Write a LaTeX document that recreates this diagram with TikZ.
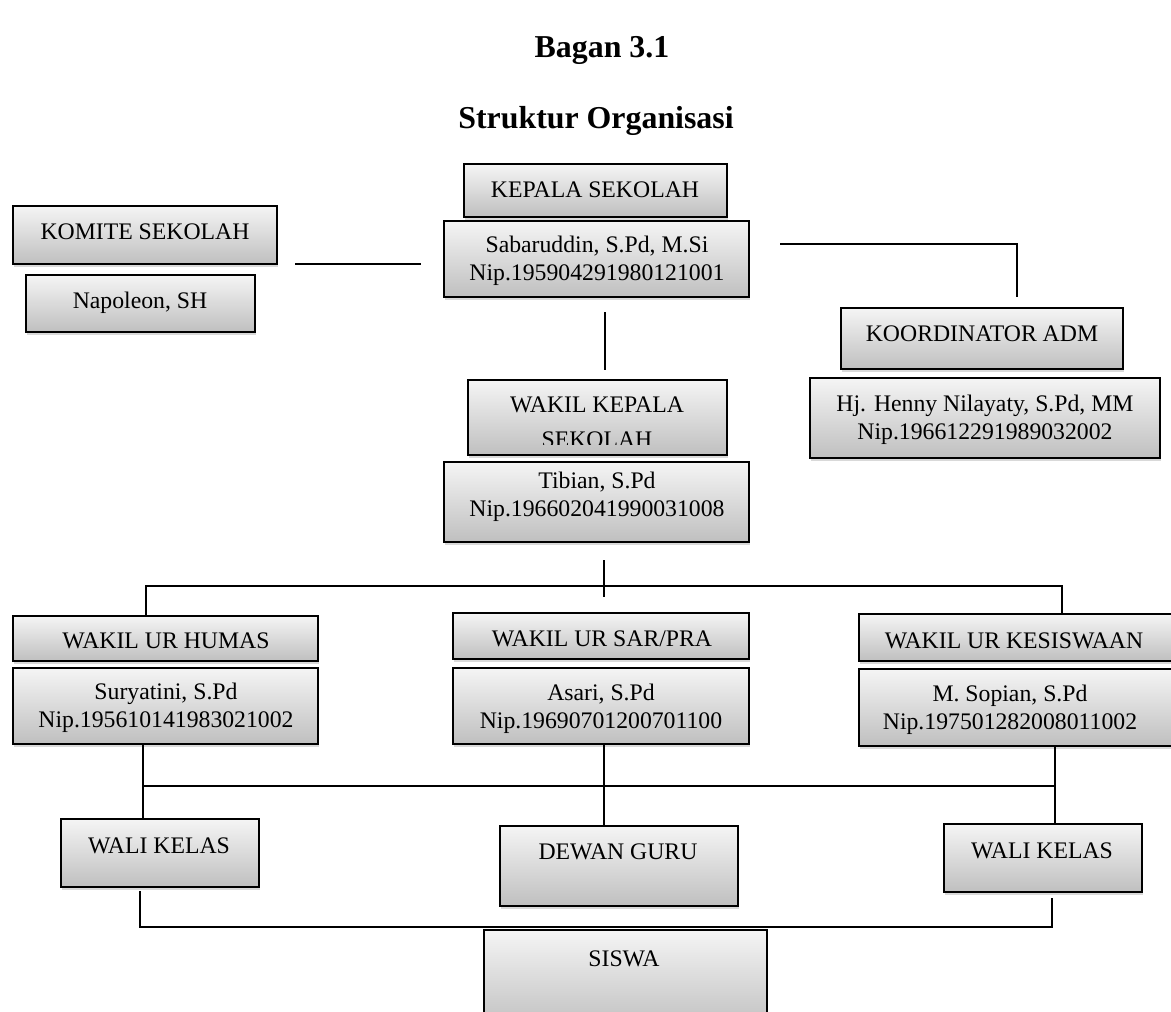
\documentclass[tikz,border=0pt]{standalone}
\usepackage{fontspec}
\setmainfont{Liberation Serif}
\usetikzlibrary{fit,shadows}
\begin{document}
\begin{tikzpicture}[x=0.75pt,y=-0.75pt,
  obox/.style={draw=black, line width=1.4pt, top color=black!4, bottom color=black!25,
    inner sep=0pt, drop shadow={shadow xshift=1pt, shadow yshift=-2.2pt, opacity=0.3}},
  txt/.style={font=\fontsize{17.8}{21}\selectfont, align=center, inner sep=0pt},
  ttl/.style={font=\fontsize{23.9}{28}\selectfont\bfseries, inner sep=0pt},
  conn/.style={line width=1.2pt}]
\useasboundingbox (0,0) rectangle (1171,1011);
\clip (0,0) rectangle (1171,1011);

% titles
\node[ttl, anchor=base] (t1) at (602,57) {Bagan 3.1};
\node[ttl, anchor=base] (t2) at (596,128) {Struktur Organisasi};

% boxes
\node[obox, fit={(464,164) (727,217)}] (kepala) {};
\node[obox, fit={(444,221) (749,297)}] (sabar) {};
\node[obox, fit={(13,206) (277,264)}] (komite) {};
\node[obox, fit={(26,275) (255,332)}] (napoleon) {};
\node[obox, fit={(841,308) (1123,369)}] (koord) {};
\node[obox, fit={(810,378) (1160,458)}] (henny) {};
\node[obox, fit={(468,380) (727,455)}] (wakilkepala) {};
\node[obox, fit={(444,462) (749,542)}] (tibian) {};
\node[obox, fit={(13,616) (318,661)}] (humas) {};
\node[obox, fit={(13,668) (318,744)}] (suryatini) {};
\node[obox, fit={(453,613) (749,659)}] (sarpra) {};
\node[obox, fit={(453,668) (749,744)}] (asari) {};
\node[obox, fit={(859,614) (1185,661)}] (kesiswaan) {};
\node[obox, fit={(859,669) (1185,746)}] (sopian) {};
\node[obox, fit={(61,819) (259,887)}] (walikiri) {};
\node[obox, fit={(500,826) (738,906)}] (dewan) {};
\node[obox, fit={(944,824) (1142,892)}] (walikanan) {};
\node[obox, fit={(484,930) (767,1030)}] (siswa) {};

% texts
\node[txt, anchor=base] (kepalaT) at (595,197) {KEPALA SEKOLAH};
\node[txt] (sabarT) at (597,261) {Sabaruddin, S.Pd, M.Si\\Nip.195904291980121001};
\node[txt, anchor=base] (komiteT) at (145,239) {KOMITE SEKOLAH};
\node[txt, anchor=base] (napoleonT) at (140,308) {Napoleon, SH};
\node[txt, anchor=base] (koordT) at (982,341) {KOORDINATOR ADM};
\node[txt] (hennyT) at (985,420) {Hj. Henny Nilayaty, S.Pd, MM\\Nip.196612291989032002};
\begin{scope}
  \clip (468,380) rectangle (727,444);
  \node[txt, font=\fontsize{17.8}{26}\selectfont] (wakilkepalaT) at (597,422.5) {WAKIL KEPALA\\SEKOLAH};
\end{scope}
\node[txt] (tibianT) at (597,497) {Tibian, S.Pd\\Nip.196602041990031008};
\node[txt, anchor=base] (humasT) at (166,648) {WAKIL UR HUMAS};
\node[txt] (suryatiniT) at (166,708) {Suryatini, S.Pd\\Nip.195610141983021002};
\node[txt, anchor=base] (sarpraT) at (602,646) {WAKIL UR SAR/PRA};
\node[txt] (asariT) at (601,709) {Asari, S.Pd\\Nip.19690701200701100};
\node[txt, anchor=base] (kesiswaanT) at (1014,648) {WAKIL UR KESISWAAN};
\node[txt] (sopianT) at (1010,710) {M. Sopian, S.Pd\\Nip.197501282008011002};
\node[txt, anchor=base] (walikiriT) at (159,853) {WALI KELAS};
\node[txt, anchor=base] (dewanT) at (618,859) {DEWAN GURU};
\node[txt, anchor=base] (walikananT) at (1042,858) {WALI KELAS};
\node[txt, anchor=base] (siswaT) at (624,966) {SISWA};

% connectors
\coordinate (k1) at (295,264);
\coordinate (k2) at (421,264);
\draw[conn] (k1) -- (k2);

\coordinate (r1) at (780,244);
\coordinate (r2) at (1017,297);
\draw[conn] (r1) -| (r2);

\coordinate (s1) at (605,312);
\coordinate (s2) at (605,370);
\draw[conn] (s1) -- (s2);

\coordinate (v1) at (604,560);
\coordinate (v2) at (604,597);
\draw[conn] (v1) -- (v2);
\coordinate (hL) at (146,586);
\coordinate (hR) at (1062,586);
\draw[conn] (hL |- humas.north) -- (hL) -- (hR) -- (hR |- kesiswaan.north);

\coordinate (mL) at (143,786);
\coordinate (mM) at (604,786);
\coordinate (mR) at (1055,786);
\draw[conn] (mL) -- (mR);
\draw[conn] (mL |- suryatini.south) -- (mL |- walikiri.north);
\draw[conn] (mM |- asari.south) -- (mM |- dewan.north);
\draw[conn] (mR |- sopian.south) -- (mR |- walikanan.north);

\coordinate (bL1) at (140,891);
\coordinate (bL) at (140,927);
\coordinate (bR) at (1052,927);
\coordinate (bR1) at (1052,898);
\draw[conn] (bL1) -- (bL) -- (bR) -- (bR1);
\end{tikzpicture}
\end{document}
